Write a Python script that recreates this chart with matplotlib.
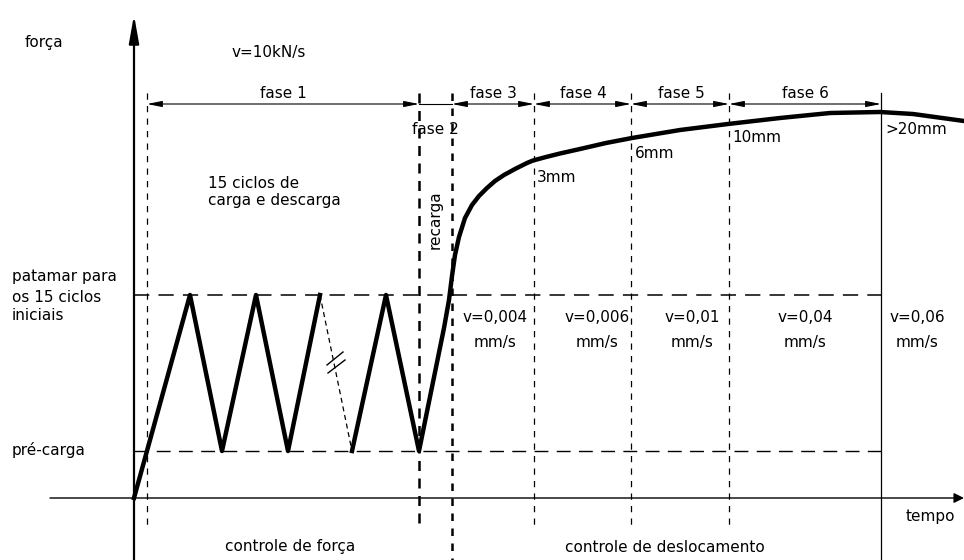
import numpy as np
import matplotlib
matplotlib.use('Agg')
import matplotlib.pyplot as plt

# Schematic units: tempo (t) to the right, forca (F) upwards
PRE_CARGA = 47
PATAMAR = 203

# load / unload cycles (thick), before the break
ciclos_t = [0, 56, 88, 122, 154, 186]
ciclos_f = [0, 203, 47, 203, 47, 203]

# the omitted cycles (thin dashed)
quebra_t = [186, 218]
quebra_f = [203, 47]

# last cycle + recarga + displacement-controlled curve
curva_t = [218, 252, 285, 310, 315, 318, 321, 325, 331, 338, 345, 353,
           361, 370, 381, 393, 399, 412, 426, 446, 472, 498, 546, 594, 646,
           696, 746, 779, 830]
curva_f = [47, 203, 47, 170, 198, 222, 243, 261, 280, 293, 302, 310,
           317, 323, 329, 335, 337.5, 341, 344.5, 349, 355, 360, 368, 374,
           380, 385, 386, 384, 377]

# break mark across the omitted cycles
marca_t = [[193, 209], [194, 211]]
marca_f = [[133, 146], [125, 138]]

# phase boundaries
limites_t = [13, 285, 318, 400, 497, 595, 747]
fases = ['fase 1', 'fase 2', 'fase 3', 'fase 4', 'fase 5', 'fase 6']
fases_t = [149, 301, 359, 449, 547, 671]
deslocamentos = ['3mm', '6mm', '10mm', '>20mm']
desl_t = [403, 501, 598, 751]
desl_f = [320, 345, 361, 369]
velocidades = ['v=0,004', 'v=0,006', 'v=0,01', 'v=0,04', 'v=0,06']
vel_t = [361, 463, 558, 671, 783]

fig = plt.figure(figsize=(9.64, 5.6), dpi=100)
ax = fig.add_axes([0, 0, 1, 1])
ax.set_xlim(-134, 830)
ax.set_ylim(-62, 498)
ax.axis('off')

fs = 11

# axes with arrows
ax.annotate('', xy=(0, 483), xytext=(0, -62),
            arrowprops=dict(arrowstyle='-|>,head_length=1.4,head_width=0.25',
                            lw=1.6, color='black', mutation_scale=12,
                            shrinkA=0, shrinkB=0))
ax.annotate('', xy=(830, 0), xytext=(-84, 0),
            arrowprops=dict(arrowstyle='-|>,head_length=0.6,head_width=0.3',
                            lw=1.0, color='black', mutation_scale=10,
                            shrinkA=0, shrinkB=0))

# horizontal reference levels
ax.plot([0, 747], [PATAMAR, PATAMAR], color='black', lw=1.1,
        dashes=(10, 6))
ax.plot([0, 747], [PRE_CARGA, PRE_CARGA], color='black', lw=1.0,
        dashes=(10, 6))

# vertical phase boundaries
ax.plot([limites_t[0]] * 2, [405, -30], color='black', lw=0.9, dashes=(5, 5))
ax.plot([limites_t[1]] * 2, [405, -30], color='black', lw=1.8, dashes=(4, 3))
ax.plot([limites_t[2]] * 2, [405, -62], color='black', lw=1.8, dashes=(3, 3))
for t in limites_t[3:6]:
    ax.plot([t, t], [405, -30], color='black', lw=0.9, dashes=(5, 5))
ax.plot([limites_t[6]] * 2, [405, -62], color='black', lw=0.9)

# dimension line with arrows
y_dim = 394
seta = dict(arrowstyle='<|-|>,head_length=0.9,head_width=0.18', lw=0.8,
            color='black', mutation_scale=10, shrinkA=0, shrinkB=0)
for a, b in [(0, 1), (2, 3), (3, 4), (4, 5), (5, 6)]:
    ax.annotate('', xy=(limites_t[a], y_dim), xytext=(limites_t[b], y_dim),
                arrowprops=seta)
ax.plot([limites_t[1], limites_t[2]], [y_dim, y_dim], color='black', lw=0.8)

# curves
ax.plot(ciclos_t, ciclos_f, color='black', lw=3.2, solid_joinstyle='round')
ax.plot(quebra_t, quebra_f, color='black', lw=0.9, dashes=(4, 3))
ax.plot(curva_t, curva_f, color='black', lw=3.2, solid_joinstyle='round')

for mt, mf in zip(marca_t, marca_f):
    ax.plot(mt, mf, color='black', lw=1.0)

# texts
ax.text(-90, 456, 'força', fontsize=fs, ha='center', va='center')
ax.text(98, 446, 'v=10kN/s', fontsize=fs, ha='left', va='center')
for lbl, tc in zip(fases, fases_t):
    fy = 369 if lbl == 'fase 2' else 405
    ax.text(tc, fy, lbl, fontsize=fs, ha='center', va='center')

ax.text(74, 315, '15 ciclos de', fontsize=fs, ha='left', va='center')
ax.text(74, 298, 'carga e descarga', fontsize=fs, ha='left', va='center')
ax.text(301, 278, 'recarga', fontsize=fs, ha='center', va='center',
        rotation=90)

ax.text(-122, 221, 'patamar para', fontsize=fs, ha='left', va='center')
ax.text(-122, 201, 'os 15 ciclos', fontsize=fs, ha='left', va='center')
ax.text(-122, 182, 'iniciais', fontsize=fs, ha='left', va='center')
ax.text(-122, 48, 'pré-carga', fontsize=fs, ha='left', va='center')

for lbl, tl, fl in zip(deslocamentos, desl_t, desl_f):
    ax.text(tl, fl, lbl, fontsize=fs, ha='left', va='center')

for lbl, tc in zip(velocidades, vel_t):
    ax.text(tc, 180, lbl, fontsize=fs, ha='center', va='center')
    ax.text(tc, 156, 'mm/s', fontsize=fs, ha='center', va='center')

ax.text(796, -19, 'tempo', fontsize=fs, ha='center', va='center')
ax.text(156, -48, 'controle de força', fontsize=fs, ha='center', va='center')
ax.text(531, -50, 'controle de deslocamento', fontsize=fs, ha='center',
        va='center')

fig.savefig('out.png', dpi=100, facecolor='white')
